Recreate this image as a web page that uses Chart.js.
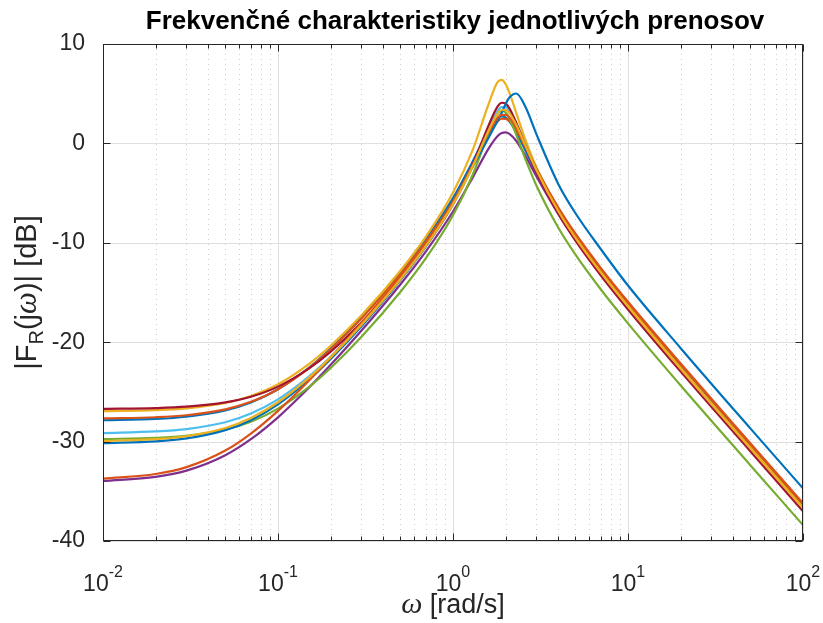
<!DOCTYPE html>
<html>
<head>
<meta charset="utf-8">
<script src="https://cdn.jsdelivr.net/npm/chart.js@4.4.1/dist/chart.umd.min.js"></script>
<style>
  html, body { margin: 0; padding: 0; background: #fff; }
  canvas { display: block; }
</style>
</head>
<body>
<canvas id="chart1" width="823" height="623"></canvas>
<script>
// frequencies [rad/s]
const omega = [0.01, 0.02, 0.03, 0.05, 0.07, 0.1, 0.15, 0.2, 0.3, 0.5, 0.7, 1, 1.3, 1.6, 1.8, 1.9, 2, 2.1, 2.3, 2.6, 3, 4, 5, 7, 10, 20, 50, 100];

// |F_R(jw)| in dB, one array per transfer
const fr1 = [-27.85, -27.72, -27.5, -26.87, -26.07, -24.74, -22.57, -20.63, -17.49, -13.0, -9.65, -5.5, -1.77, 1.39, 2.57, 2.71, 2.58, 2.21, 1.11, -0.76, -2.96, -6.83, -9.4, -12.86, -16.24, -22.46, -30.47, -36.5];
const fr2 = [-27.67, -27.55, -27.35, -26.76, -26.0, -24.73, -22.6, -20.71, -17.61, -13.17, -9.86, -5.79, -2.2, 0.9, 2.21, 2.48, 2.47, 2.24, 1.32, -0.42, -2.59, -6.47, -9.06, -12.54, -15.93, -22.15, -30.17, -36.2];
const fr3 = [-26.94, -26.83, -26.65, -26.11, -25.41, -24.23, -22.2, -20.36, -17.3, -12.81, -9.38, -4.95, -0.6, 3.99, 6.18, 6.39, 5.95, 5.1, 3.05, 0.3, -2.42, -6.69, -9.37, -12.91, -16.31, -22.56, -30.57, -36.6];
const fr4 = [-33.96, -33.54, -32.92, -31.37, -29.76, -27.56, -24.59, -22.28, -18.83, -14.19, -10.86, -6.85, -3.39, -0.5, 0.74, 1.04, 1.1, 0.96, 0.24, -1.29, -3.32, -7.11, -9.68, -13.15, -16.53, -22.75, -30.77, -36.8];
const fr5 = [-29.75, -29.62, -29.41, -28.78, -28.0, -26.68, -24.52, -22.6, -19.46, -14.95, -11.55, -7.22, -3.1, 1.03, 2.98, 3.3, 3.11, 2.53, 0.86, -1.64, -4.26, -8.49, -11.17, -14.7, -18.11, -24.36, -32.37, -38.4];
const fr6 = [-29.14, -28.98, -28.74, -28.05, -27.17, -25.75, -23.46, -21.48, -18.28, -13.76, -10.39, -6.17, -2.27, 1.46, 3.26, 3.66, 3.65, 3.3, 2.02, -0.2, -2.71, -6.88, -9.56, -13.1, -16.51, -22.75, -30.77, -36.8];
const fr7 = [-26.71, -26.63, -26.49, -26.06, -25.49, -24.47, -22.66, -20.96, -18.03, -13.66, -10.32, -6.08, -2.09, 1.84, 3.72, 4.09, 4.0, 3.54, 2.06, -0.3, -2.88, -7.08, -9.76, -13.3, -16.71, -22.96, -30.97, -37.0];
const fr8 = [-30.15, -29.97, -29.68, -28.85, -27.85, -26.25, -23.8, -21.7, -18.4, -13.75, -10.25, -5.7, -2.3, 0.6, 2.3, 3.1, 3.97, 4.61, 5.02, 3.64, 0.91, -4.1, -7.0, -10.65, -14.3, -20.6, -28.67, -34.7];
const fr9 = [-33.73, -33.26, -32.57, -30.9, -29.19, -26.91, -23.87, -21.54, -18.06, -13.39, -10.01, -5.85, -2.14, 1.14, 2.57, 2.87, 2.86, 2.6, 1.59, -0.28, -2.54, -6.51, -9.13, -12.63, -16.02, -22.25, -30.27, -36.3];
const fr10 = [-29.94, -29.75, -29.46, -28.63, -27.62, -26.04, -23.59, -21.52, -18.25, -13.69, -10.32, -6.12, -2.28, 1.32, 3.0, 3.36, 3.36, 3.04, 1.84, -0.27, -2.7, -6.82, -9.48, -13.0, -16.41, -22.67, -30.67, -36.7];

const curves = [fr1, fr2, fr3, fr4, fr5, fr6, fr7, fr8, fr9, fr10];

// axis ticks
const xTickExp = [-2, -1, 0, 1, 2];
const yTicks = [10, 0, -10, -20, -30, -40];

// matlab default line colors
const colors = ['#0072BD', '#D95319', '#EDB120', '#7E2F8E', '#77AC30', '#4DBEEE', '#A2142F', '#0072BD', '#D95319', '#EDB120'];

const SANS = '"Liberation Sans", Arial, Helvetica, sans-serif';
const SERIF = '"Liberation Serif", "DejaVu Serif", serif';
const AX = '#262626';

function drawParts(ctx, parts, x, y, align) {
    let total = 0;
    for (const p of parts) { ctx.font = p.font; total += ctx.measureText(p.t).width; }
    let cx = align === 'center' ? x - total / 2 : x;
    for (const p of parts) {
        ctx.font = p.font;
        ctx.fillText(p.t, cx, y + (p.dy || 0));
        cx += ctx.measureText(p.t).width;
    }
}

const matlabAxes = {
    id: 'matlabAxes',
    beforeDatasetsDraw(chart) {
        const { ctx, chartArea: a, scales: { x, y } } = chart;
        ctx.save();
        ctx.lineWidth = 1;
        // minor x grid (dotted)
        ctx.strokeStyle = '#cdcdcd';
        ctx.setLineDash([1, 4]);
        for (const e of xTickExp.slice(0, -1)) {
            for (let m = 2; m <= 9; m++) {
                const px = Math.round(x.getPixelForValue(m * Math.pow(10, e))) + 0.5;
                ctx.beginPath(); ctx.moveTo(px, a.top); ctx.lineTo(px, a.bottom); ctx.stroke();
            }
        }
        // major grid
        ctx.setLineDash([]);
        ctx.strokeStyle = '#dfdfdf';
        for (const e of xTickExp) {
            const px = Math.round(x.getPixelForValue(Math.pow(10, e))) + 0.5;
            ctx.beginPath(); ctx.moveTo(px, a.top); ctx.lineTo(px, a.bottom); ctx.stroke();
        }
        for (const v of yTicks) {
            const py = Math.round(y.getPixelForValue(v)) + 0.5;
            ctx.beginPath(); ctx.moveTo(a.left, py); ctx.lineTo(a.right, py); ctx.stroke();
        }
        ctx.restore();
    },
    afterDraw(chart) {
        const { ctx, chartArea: a, scales: { x, y } } = chart;
        ctx.save();
        ctx.strokeStyle = AX;
        ctx.lineWidth = 1;
        const L = Math.round(a.left) + 0.5, R = Math.round(a.right) - 0.5;
        const T = Math.round(a.top) + 0.5, B = Math.round(a.bottom) - 0.5;
        ctx.strokeRect(L, T, R - L, B - T);

        // tick marks, inward
        ctx.beginPath();
        for (const e of xTickExp) {
            const px = Math.round(x.getPixelForValue(Math.pow(10, e))) + 0.5;
            ctx.moveTo(px, B); ctx.lineTo(px, B - 7);
            ctx.moveTo(px, T); ctx.lineTo(px, T + 7);
            if (e === xTickExp[xTickExp.length - 1]) continue;
            for (let m = 2; m <= 9; m++) {
                const qx = Math.round(x.getPixelForValue(m * Math.pow(10, e))) + 0.5;
                ctx.moveTo(qx, B); ctx.lineTo(qx, B - 4);
                ctx.moveTo(qx, T); ctx.lineTo(qx, T + 4);
            }
        }
        for (const v of yTicks) {
            const py = Math.round(y.getPixelForValue(v)) + 0.5;
            ctx.moveTo(L, py); ctx.lineTo(L + 7, py);
            ctx.moveTo(R, py); ctx.lineTo(R - 7, py);
        }
        ctx.stroke();

        ctx.fillStyle = AX;
        ctx.textBaseline = 'alphabetic';
        ctx.textAlign = 'left';
        // x tick labels 10^e
        for (const e of xTickExp) {
            const px = x.getPixelForValue(Math.pow(10, e));
            drawParts(ctx, [
                { t: '10', font: '23px ' + SANS },
                { t: String(e), font: '16px ' + SANS, dy: -14 }
            ], px, 591, 'center');
        }
        // x axis title
        drawParts(ctx, [
            { t: 'ω', font: 'italic 30px ' + SERIF },
            { t: ' [rad/s]', font: '27px ' + SANS }
        ], (a.left + a.right) / 2, 613, 'center');

        // y axis title
        ctx.save();
        ctx.translate(36, (a.top + a.bottom) / 2);
        ctx.rotate(-Math.PI / 2);
        drawParts(ctx, [
            { t: '|F', font: '29px ' + SANS },
            { t: 'R', font: '20px ' + SANS, dy: 7 },
            { t: '(j', font: '29px ' + SANS },
            { t: 'ω', font: 'italic 31px ' + SERIF },
            { t: ')| [dB]', font: '29px ' + SANS }
        ], 0, 0, 'center');
        ctx.restore();

        // title
        ctx.fillStyle = '#000';
        ctx.font = 'bold 26px ' + SANS;
        ctx.textAlign = 'center';
        ctx.fillText('Frekvenčné charakteristiky jednotlivých prenosov', (a.left + a.right) / 2 + 2, 29);
        ctx.restore();
    }
};

const datasets = curves.map((c, i) => ({
    data: omega.map((w, k) => ({ x: w, y: c[k] })),
    borderColor: colors[i],
    borderWidth: 2.2,
    pointRadius: 0,
    fill: false,
    cubicInterpolationMode: 'monotone',
    order: curves.length - i
}));

const c1 = document.getElementById('chart1');
const chartObject1 = new Chart(c1, {
    type: 'line',
    data: { datasets: datasets },
    options: {
        responsive: false,
        animation: false,
        devicePixelRatio: 1,
        layout: { padding: { top: 44, right: 20, left: 0, bottom: 0 } },
        plugins: { legend: { display: false }, tooltip: { enabled: false }, title: { display: false } },
        scales: {
            x: {
                type: 'logarithmic',
                min: 0.01,
                max: 100,
                grid: { display: false },
                border: { display: false },
                ticks: { display: false },
                afterFit: s => { s.height = 82; }
            },
            y: {
                type: 'linear',
                min: -40,
                max: 10,
                grid: { display: false },
                border: { display: false },
                ticks: {
                    stepSize: 10,
                    padding: 10,
                    color: AX,
                    font: { family: SANS, size: 23 }
                },
                afterFit: s => { s.width = 103; }
            }
        }
    },
    plugins: [matlabAxes]
});
</script>
</body>
</html>
